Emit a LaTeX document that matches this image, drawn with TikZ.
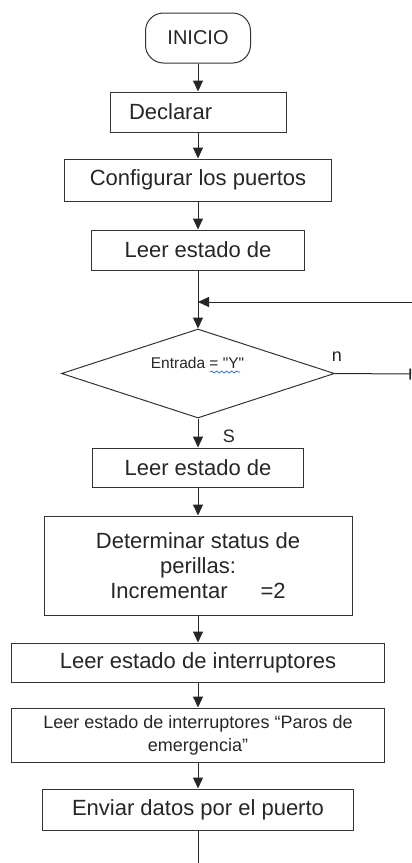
\documentclass[tikz,border=0pt]{standalone}
\usepackage{fontspec}
\setmainfont{Liberation Sans}
\usetikzlibrary{arrows.meta,positioning,shapes.geometric,decorations.pathmorphing}

\begin{document}
\begin{tikzpicture}[x=1pt,y=-1pt,
	box/.style={draw=black!80, line width=1pt, inner sep=0pt, align=center, text=black!85, font=\fontsize{22}{25}\selectfont},
	flow/.style={draw=black!85, line width=1pt, -{Triangle[length=11pt,width=10pt]}},
	lbl/.style={text=black!85, inner sep=0pt, font=\fontsize{18}{20}\selectfont}]
	\useasboundingbox (0,0) rectangle (412,863);
	
	\node[box, rounded corners=18pt, minimum width=105pt, minimum height=50pt, font=\fontsize{20}{24}\selectfont] (inicio) at (198,38) {INICIO};
	\node[box, minimum height=40pt, text width=138pt, inner xsep=19pt, align=left] (declarar) at (198,112) {Declarar};
	\node[box, minimum width=267pt, minimum height=42pt] (config) at (198,180) {Configurar los puertos};
	\node[box, minimum width=213pt, minimum height=40pt] (leer1) at (198,250) {Leer estado de};
	
	\node[draw=black!80, line width=1pt, diamond, minimum width=273pt, minimum height=89pt, inner sep=0pt] (dec) at (198,373.5) {};
	\node[lbl, font=\fontsize{15.5}{18}\selectfont] (cond) at (197.5,363) {Entrada = \textquotedbl Y\textquotedbl};
	\draw[blue!70!cyan, line width=0.6pt, decorate, decoration={snake, amplitude=1pt, segment length=5pt}] (210,372) -- (240,372);
	\node[lbl] (nlab) at (337,357) {n};
	\node[lbl] (slab) at (229,436) {S};
	
	\node[box, minimum width=211pt, minimum height=39pt] (leer2) at (198,467.5) {Leer estado de};
	\node[box, minimum width=308pt, minimum height=99pt] (perillas) at (198,565.5) {Determinar status de\\perillas:\\Incrementar\hspace{33pt}=2};
	\node[box, minimum width=373pt, minimum height=39pt] (interr) at (198,662.5) {Leer estado de interruptores};
	\node[box, minimum width=373pt, minimum height=54pt, font=\fontsize{18}{23}\selectfont] (paros) at (198,735) {Leer estado de interruptores “Paros de\\emergencia”};
	\node[box, minimum width=311pt, minimum height=41pt] (enviar) at (198,809.5) {Enviar datos por el puerto};
	
	\coordinate (join) at (198,302);
	\coordinate (back) at (412,302);
	\coordinate (nout) at (411,374);
	\coordinate (fin) at (198,863);
	
	% flujo principal
	\draw[flow] (inicio) -- (declarar);
	\draw[flow] (declarar) -- (config);
	\draw[flow] (config) -- (leer1);
	\draw[flow] (leer1) -- (dec);
	\draw[flow] (back) -- (join);
	\draw[draw=black!85, line width=1pt, -{Bar[width=11pt,line width=1.6pt]}] (dec.east) -- (nout);
	\draw[flow] (dec) -- (leer2);
	\draw[flow] (leer2) -- (perillas);
	\draw[flow] (perillas) -- (interr);
	\draw[flow] (interr) -- (paros);
	\draw[flow] (paros) -- (enviar);
	\draw[draw=black!85, line width=1pt] (enviar) -- (fin);
\end{tikzpicture}
\end{document}
